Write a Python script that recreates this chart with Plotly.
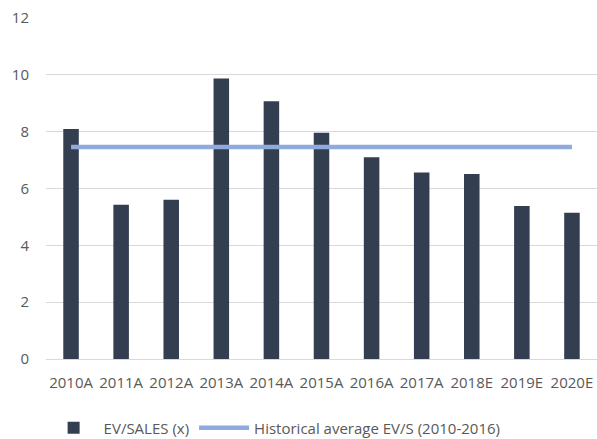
import plotly.graph_objects as go

categories = ["2010A", "2011A", "2012A", "2013A", "2014A", "2015A", "2016A",
              "2017A", "2018E", "2019E", "2020E"]
ev_sales = [8.09, 5.43, 5.60, 9.87, 9.07, 7.96, 7.10, 6.56, 6.51, 5.38, 5.15]
hist_avg = [7.46] * len(categories)

fig = go.Figure()
fig.add_trace(go.Bar(x=categories, y=ev_sales, name="EV/SALES (x)",
                     marker=dict(color="#333F50", line=dict(width=0))))
fig.add_trace(go.Scatter(x=categories, y=hist_avg, mode="lines",
                         name="Historical average EV/S (2010-2016)",
                         line=dict(color="#8FAADC", width=4.5)))

fig.update_layout(
    width=597, height=439,
    margin=dict(l=46, r=0, t=18, b=80, autoexpand=False),
    paper_bgcolor="white", plot_bgcolor="white",
    font=dict(family="Open Sans", size=15, color="#595959"),
    bargap=0.69,
    showlegend=True,
    legend=dict(orientation="h", xref="container", x=0.46, xanchor="center",
                yref="container", y=0.025, yanchor="middle",
                font=dict(size=15, color="#595959"), itemwidth=50),
    xaxis=dict(showgrid=False, showline=False, ticks="", ticklabelstandoff=13),
    yaxis=dict(range=[0, 12], dtick=2, showgrid=True, gridcolor="#D9D9D9",
               gridwidth=1.3, zeroline=True, zerolinecolor="#D9D9D9",
               zerolinewidth=1.3, showline=False, ticks="", ticklabelstandoff=16),
)

fig.write_html("out.html")
